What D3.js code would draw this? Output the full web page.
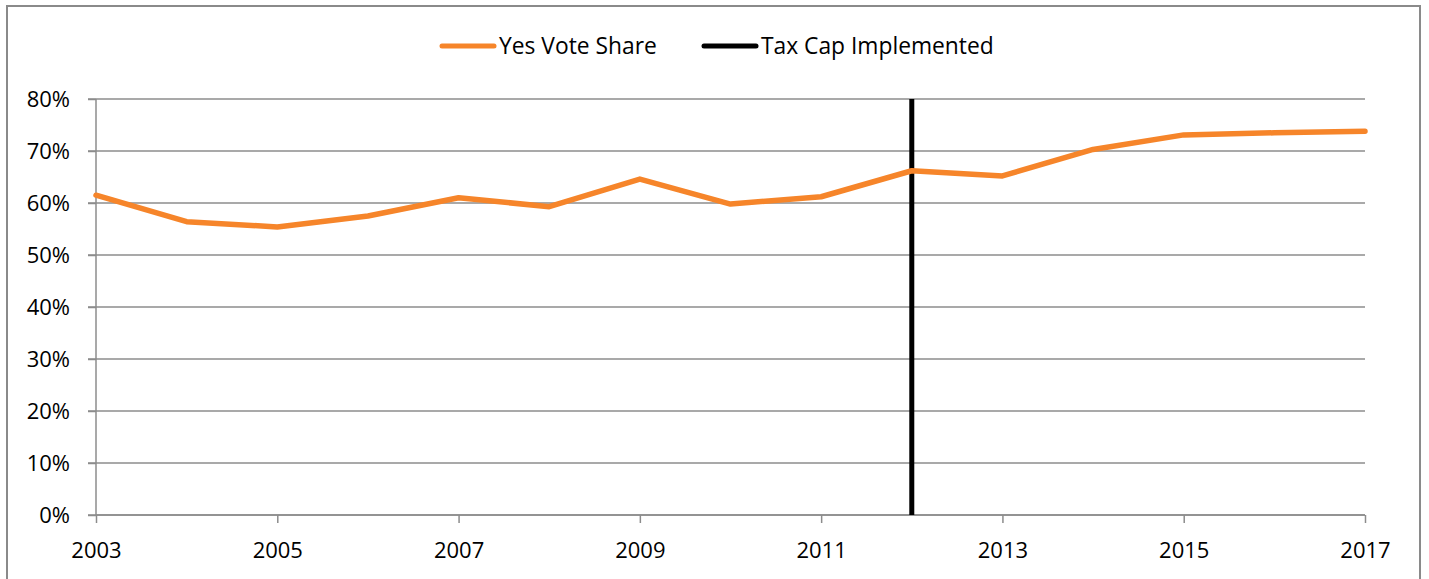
<!DOCTYPE html>
<html>
<head>
<meta charset="utf-8">
<script src="https://cdn.jsdelivr.net/npm/d3@7"></script>
<style>
  body { margin: 0; background: #fff; }
  svg { font-family: "Open Sans", sans-serif; }
</style>
</head>
<body>
<svg width="1429" height="579"></svg>
<script>
const years = [2003, 2004, 2005, 2006, 2007, 2008, 2009, 2010, 2011, 2012, 2013, 2014, 2015, 2016, 2017];
const yesShare = [0.615, 0.564, 0.554, 0.575, 0.610, 0.593, 0.646, 0.598, 0.612, 0.662, 0.652, 0.703, 0.731, 0.735, 0.738];
const capYear = 2012;
const xTicks = [2003, 2005, 2007, 2009, 2011, 2013, 2015, 2017];
const yTicks = [0, 0.1, 0.2, 0.3, 0.4, 0.5, 0.6, 0.7, 0.8];
const seriesNames = ["Yes Vote Share", "Tax Cap Implemented"];

let svg = d3.select("svg");
let margin = { left: 96, right: 64, top: 99, bottom: 64 };
let width = +svg.attr("width") - margin.left - margin.right;
let height = +svg.attr("height") - margin.top - margin.bottom;

// chart frame
svg.append("rect")
  .attr("x", 7).attr("y", 6)
  .attr("width", 1413).attr("height", 600)
  .attr("fill", "none")
  .attr("stroke", "#8a8a8a")
  .attr("stroke-width", 2);

let g = svg.append("g")
  .attr("transform", "translate(" + margin.left + "," + margin.top + ")");

let x = d3.scaleLinear().domain([2003, 2017]).range([0, width]);
let y = d3.scaleLinear().domain([0, 0.8]).range([height, 0]);

// gridlines
g.append("g")
  .selectAll("line")
  .data(yTicks)
  .enter()
  .append("line")
  .attr("x1", -8)
  .attr("x2", width)
  .attr("y1", d => y(d))
  .attr("y2", d => y(d))
  .attr("stroke", "#8c8c8c")
  .attr("stroke-width", 1.5);

// y axis
let yAxis = g.append("g")
  .call(d3.axisLeft(y).tickValues(yTicks).tickSize(8).tickFormat(d3.format(".0%")));
yAxis.selectAll("line, path").attr("stroke", "#8c8c8c").attr("stroke-width", 1.5);
yAxis.select(".domain").attr("d", "M0,0V" + height);
yAxis.selectAll("text")
  .attr("x", -26)
  .attr("dy", "0.35em")
  .attr("font-size", "22px")
  .attr("fill", "#000")
  .style("font-family", "'Open Sans', sans-serif");

// x axis
let xAxis = g.append("g")
  .attr("transform", "translate(0," + height + ")")
  .call(d3.axisBottom(x).tickValues(xTicks).tickSize(8).tickFormat(d3.format("d")));
xAxis.selectAll("line, path").attr("stroke", "#8c8c8c").attr("stroke-width", 1.5);
xAxis.select(".domain").attr("d", "M0,0H" + width);
xAxis.selectAll("text")
  .attr("y", 35)
  .attr("dy", "0.35em")
  .attr("font-size", "22px")
  .attr("fill", "#000")
  .style("font-family", "'Open Sans', sans-serif");

// tax cap line
g.append("line")
  .attr("x1", x(capYear)).attr("x2", x(capYear))
  .attr("y1", y(0.8)).attr("y2", y(0))
  .attr("stroke", "#000")
  .attr("stroke-width", 5);

// yes vote share
let line = d3.line()
  .x((d, i) => x(years[i]))
  .y(d => y(d));

g.append("path")
  .datum(yesShare)
  .attr("d", line)
  .attr("fill", "none")
  .attr("stroke", "#f6852a")
  .attr("stroke-width", 5.5)
  .attr("stroke-linejoin", "round")
  .attr("stroke-linecap", "round");

// legend
let legend = svg.append("g").attr("transform", "translate(0,46)");
let legendItems = [
  { name: seriesNames[0], color: "#f6852a", x: 442 },
  { name: seriesNames[1], color: "#000", x: 704 }
];
legendItems.forEach(function(d) {
  legend.append("line")
    .attr("x1", d.x).attr("x2", d.x + 52)
    .attr("y1", 0).attr("y2", 0)
    .attr("stroke", d.color)
    .attr("stroke-width", 5)
    .attr("stroke-linecap", "round");
  legend.append("text")
    .attr("x", d.x + 57)
    .attr("dy", "0.35em")
    .attr("font-size", "22.8px")
    .text(d.name);
});
</script>
</body>
</html>
